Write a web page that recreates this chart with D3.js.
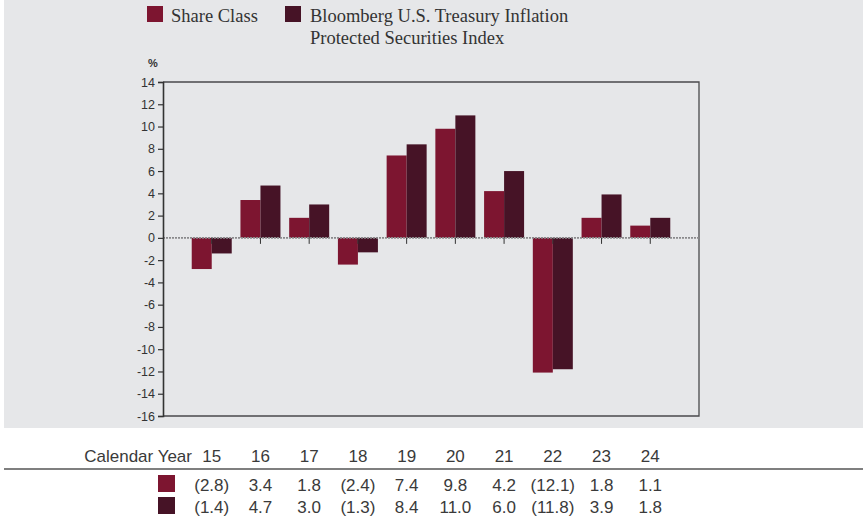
<!DOCTYPE html>
<html>
<head>
<meta charset="utf-8">
<script src="https://cdn.jsdelivr.net/npm/d3@7"></script>
<style>
  body { margin: 0; background: #fff; }
  svg { display: block; }
</style>
</head>
<body>
<div id="chart"></div>
<script>
const years = ['15', '16', '17', '18', '19', '20', '21', '22', '23', '24'];
const shareClass = [-2.8, 3.4, 1.8, -2.4, 7.4, 9.8, 4.2, -12.1, 1.8, 1.1];
const benchmark = [-1.4, 4.7, 3.0, -1.3, 8.4, 11.0, 6.0, -11.8, 3.9, 1.8];
const seriesNames = ['Share Class', 'Bloomberg U.S. Treasury Inflation', 'Protected Securities Index'];
const yTicks = d3.range(-16, 15, 2);

const W = 863, H = 520;
const colors = ['#7d1530', '#461326'];
const plot = { left: 163, right: 699, top: 82, bottom: 416 };
const narrow = '"Liberation Sans Narrow", "Liberation Sans", Arial, sans-serif';

const svg = d3.select('#chart').append('svg')
    .attr('width', W).attr('height', H);

// grey panel
svg.append('rect')
    .attr('x', 4).attr('y', 0).attr('width', W - 4).attr('height', 428)
    .attr('fill', '#e6e7e9');

const x = d3.scalePoint().domain(years).range([plot.left, plot.right]).padding(1);
const y = d3.scaleLinear().domain([-16, 14]).range([plot.bottom, plot.top]);
const barW = 20;

// plot frame (top + right)
svg.append('path')
    .attr('d', `M${plot.left},${plot.top}H${plot.right}V${plot.bottom}H${plot.left}`)
    .attr('fill', 'none').attr('stroke', '#4a4a4c').attr('stroke-width', 1.3);

// bars
const data = [shareClass, benchmark];
data.forEach((vals, s) => {
    svg.append('g').selectAll('rect')
        .data(vals)
        .join('rect')
        .attr('x', (d, i) => x(years[i]) + (s === 0 ? -barW : 0))
        .attr('y', d => y(Math.max(0, d)))
        .attr('width', barW)
        .attr('height', d => Math.abs(y(d) - y(0)))
        .attr('fill', colors[s]);
});

// zero line
svg.append('line')
    .attr('x1', plot.left).attr('x2', plot.right)
    .attr('y1', y(0)).attr('y2', y(0))
    .attr('stroke', '#8a8a8c').attr('stroke-width', 1.6)
    .attr('stroke-dasharray', '2,1');

// category ticks below zero
svg.append('g').selectAll('line')
    .data(years)
    .join('line')
    .attr('x1', d => x(d)).attr('x2', d => x(d))
    .attr('y1', y(0)).attr('y2', y(0) + 6)
    .attr('stroke', '#333').attr('stroke-width', 1);

// y axis
const yAxis = svg.append('g')
    .attr('transform', `translate(${plot.left},0)`)
    .call(d3.axisLeft(y).tickValues(yTicks).tickSize(5).tickPadding(3)
        .tickFormat(d => String(d)));
yAxis.select('.domain').attr('stroke', '#333').attr('stroke-width', 1.6);
yAxis.selectAll('.tick line').attr('stroke', '#333').attr('stroke-width', 1.2);
yAxis.selectAll('text')
    .attr('font-family', narrow)
    .attr('font-size', 12.5).attr('fill', '#333');

svg.append('text')
    .attr('x', 148).attr('y', 67)
    .attr('font-family', narrow)
    .attr('font-size', 11).attr('font-weight', 'bold').attr('fill', '#333')
    .text('%');

// legend
const legFont = '"Liberation Serif", "Times New Roman", serif';
svg.append('rect').attr('x', 147).attr('y', 6).attr('width', 16).attr('height', 16).attr('fill', colors[0]);
svg.append('text').attr('x', 171).attr('y', 22)
    .attr('font-family', legFont).attr('font-size', 18.5).attr('fill', '#333')
    .text(seriesNames[0]);
svg.append('rect').attr('x', 285).attr('y', 6).attr('width', 16).attr('height', 16).attr('fill', colors[1]);
svg.append('text').attr('x', 310).attr('y', 22)
    .attr('font-family', legFont).attr('font-size', 18.5).attr('fill', '#333')
    .text(seriesNames[1]);
svg.append('text').attr('x', 310).attr('y', 44)
    .attr('font-family', legFont).attr('font-size', 18.5).attr('fill', '#333')
    .text(seriesNames[2]);

// table
const fmt = v => v < 0 ? `(${d3.format('.1f')(-v)})` : d3.format('.1f')(v);
const tblSize = 17;

svg.append('text').attr('x', 192).attr('y', 462)
    .attr('text-anchor', 'end')
    .attr('font-family', narrow).attr('font-size', tblSize).attr('fill', '#3a3a3a')
    .text('Calendar Year');

svg.append('g').selectAll('text')
    .data(years)
    .join('text')
    .attr('x', d => x(d)).attr('y', 462)
    .attr('text-anchor', 'middle')
    .attr('font-family', narrow).attr('font-size', tblSize).attr('fill', '#3a3a3a')
    .text(d => d);

svg.append('line')
    .attr('x1', 4).attr('x2', W).attr('y1', 469).attr('y2', 469)
    .attr('stroke', '#555').attr('stroke-width', 1.5);

data.forEach((vals, s) => {
    const rowY = 491 + s * 22;
    svg.append('rect')
        .attr('x', 158).attr('y', rowY - 16).attr('width', 17).attr('height', 17)
        .attr('fill', colors[s]);
    svg.append('g').selectAll('text')
        .data(vals)
        .join('text')
        .attr('x', (d, i) => x(years[i])).attr('y', rowY)
        .attr('text-anchor', 'middle')
        .attr('font-family', narrow).attr('font-size', tblSize).attr('fill', '#3a3a3a')
        .text(d => fmt(d));
});
</script>
</body>
</html>
